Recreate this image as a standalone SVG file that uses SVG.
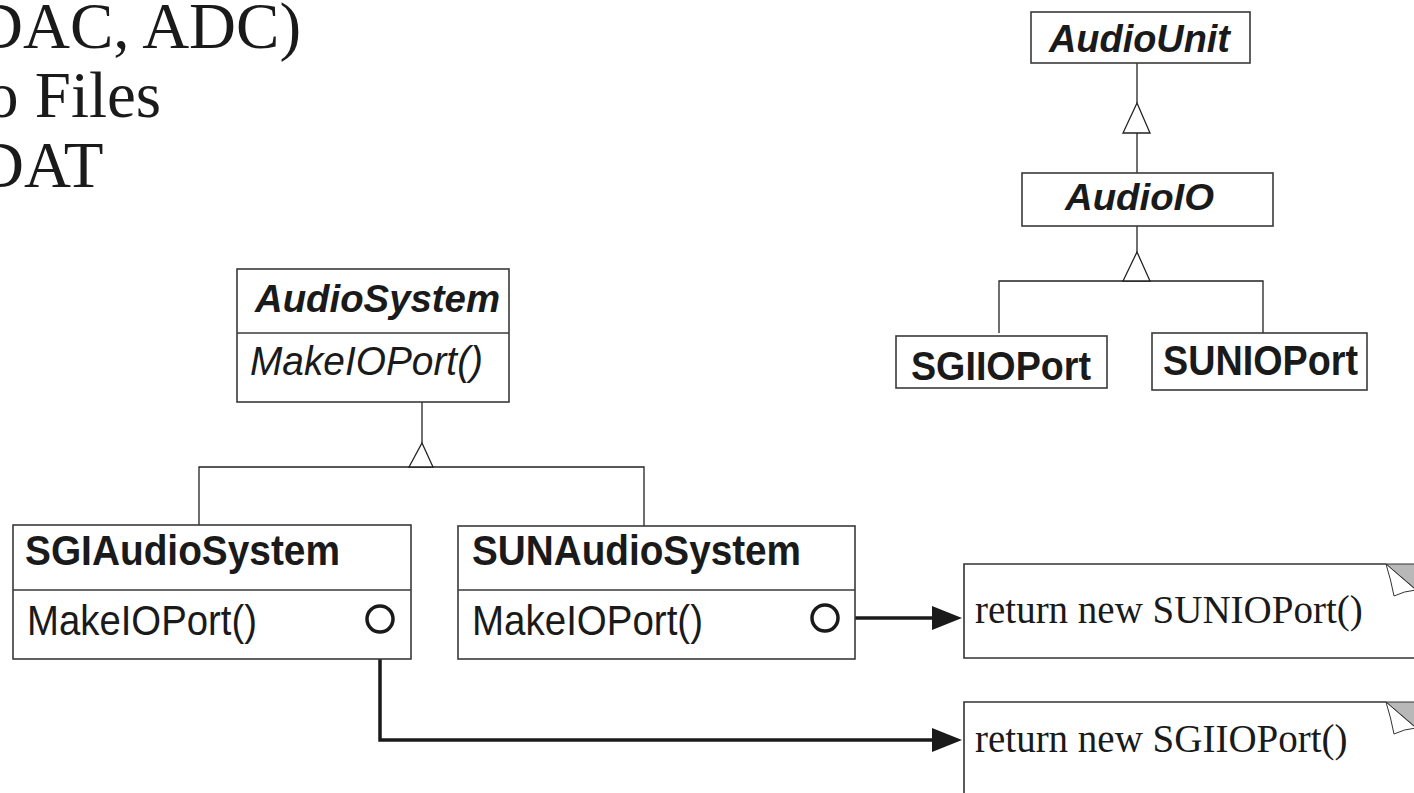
<svg xmlns="http://www.w3.org/2000/svg" width="1414" height="793" viewBox="0 0 1414 793">
<style>
.box{fill:#fff;stroke:#3a3a3a;stroke-width:1.6}
.div{stroke:#3a3a3a;stroke-width:1.4}
.inh{fill:none;stroke:#222;stroke-width:1.3}
.tri{fill:#fff;stroke:#222;stroke-width:1.3}
.thick{fill:none;stroke:#1a1a1a;stroke-width:3.5}
.head{fill:#1a1a1a}
.circ{fill:#fff;stroke:#1a1a1a;stroke-width:3.5}
.t{font-family:"Liberation Sans",Arial,sans-serif;fill:#1a1a1a}
.b{font-weight:bold}
.i{font-style:italic}
.tm{font-family:"Liberation Serif","Times New Roman",serif;fill:#1a1a1a}
.note{fill:#fff;stroke:#333;stroke-width:1.6}
.ear{fill:#b8b8b8;stroke:#333;stroke-width:1}
.flap{fill:#fff;stroke:#333;stroke-width:1}
</style>
<rect width="1414" height="793" fill="#fff"/>

<g id="bullets">
<text class="tm" x="-24" y="48" font-size="65">DAC, ADC)</text>
<text class="tm" x="-14" y="117" font-size="65">o Files</text>
<text class="tm" x="-23" y="187" font-size="65">DAT</text>
</g>

<g id="connectors">
<line class="inh" x1="1137" y1="63" x2="1137" y2="103"/>
<line class="inh" x1="1137" y1="133" x2="1137" y2="173"/>
<polygon class="tri" points="1137,103 1150,133 1123,133"/>
<line class="inh" x1="1137" y1="226" x2="1137" y2="252"/>
<polyline class="inh" points="999,333 999,281 1263,281 1263,333"/>
<polygon class="tri" points="1137,252 1150,281 1123,281"/>
<line class="inh" x1="422" y1="402" x2="422" y2="443"/>
<polyline class="inh" points="199,526 199,467 644,467 644,526"/>
<polygon class="tri" points="422,443 433,467 409,467"/>
<polyline class="thick" points="380,633 380,740 934,740"/>
<path class="head" d="M932,728 L962,740 L932,752 Z"/>
<line class="thick" x1="839" y1="618" x2="934" y2="618"/>
<path class="head" d="M932,606 L962,618 L932,630 Z"/>
</g>

<g id="AudioUnit">
<rect class="box" x="1031" y="12" width="219" height="51"/>
<text class="t b i" x="1049" y="52" font-size="38" textLength="181" lengthAdjust="spacingAndGlyphs">AudioUnit</text>
</g>

<g id="AudioIO">
<rect class="box" x="1022" y="173" width="251" height="53"/>
<text class="t b i" x="1065" y="210" font-size="36" textLength="149" lengthAdjust="spacingAndGlyphs">AudioIO</text>
</g>

<g id="SGIIOPort">
<rect class="box" x="896" y="336" width="211" height="52"/>
<text class="t b" x="911" y="380" font-size="41" textLength="180" lengthAdjust="spacingAndGlyphs">SGIIOPort</text>
</g>

<g id="SUNIOPort">
<rect class="box" x="1152" y="333" width="215" height="57"/>
<text class="t b" x="1163" y="375" font-size="42" textLength="195" lengthAdjust="spacingAndGlyphs">SUNIOPort</text>
</g>

<g id="AudioSystem">
<rect class="box" x="237" y="269" width="272" height="133"/>
<line class="div" x1="237" y1="333" x2="509" y2="333"/>
<text class="t b i" x="255" y="312" font-size="38" textLength="245" lengthAdjust="spacingAndGlyphs">AudioSystem</text>
<text class="t i" x="250" y="375" font-size="40" textLength="233" lengthAdjust="spacingAndGlyphs">MakeIOPort()</text>
</g>

<g id="SGIAudioSystem">
<rect class="box" x="13" y="525" width="398" height="134"/>
<line class="div" x1="13" y1="590" x2="411" y2="590"/>
<text class="t b" x="25" y="565" font-size="42" textLength="315" lengthAdjust="spacingAndGlyphs">SGIAudioSystem</text>
<text class="t" x="27" y="635" font-size="42" textLength="230" lengthAdjust="spacingAndGlyphs">MakeIOPort()</text>
<circle class="circ" cx="380" cy="619" r="13"/>
</g>

<g id="SUNAudioSystem">
<rect class="box" x="458" y="526" width="397" height="133"/>
<line class="div" x1="458" y1="590" x2="855" y2="590"/>
<text class="t b" x="472" y="565" font-size="42" textLength="329" lengthAdjust="spacingAndGlyphs">SUNAudioSystem</text>
<text class="t" x="472" y="635" font-size="42" textLength="231" lengthAdjust="spacingAndGlyphs">MakeIOPort()</text>
<circle class="circ" cx="825" cy="618" r="13"/>
</g>

<g id="NoteSUN">
<path class="note" d="M1386,564 H964 V658 H1420"/>
<polygon class="ear" points="1386,564 1420,564 1420,593"/>
<path class="flap" d="M1386,564 Q1391,580 1394,596 Q1404,591 1416,590 Z"/>
<text class="tm" x="975" y="623" font-size="39">return new SUNIOPort()</text>
</g>

<g id="NoteSGI">
<path class="note" d="M1386,702 H964 V800"/>
<polygon class="ear" points="1386,702 1420,702 1420,731"/>
<path class="flap" d="M1386,702 Q1391,718 1394,734 Q1404,729 1416,728 Z"/>
<text class="tm" x="975" y="752" font-size="39">return new SGIIOPort()</text>
</g>
</svg>
